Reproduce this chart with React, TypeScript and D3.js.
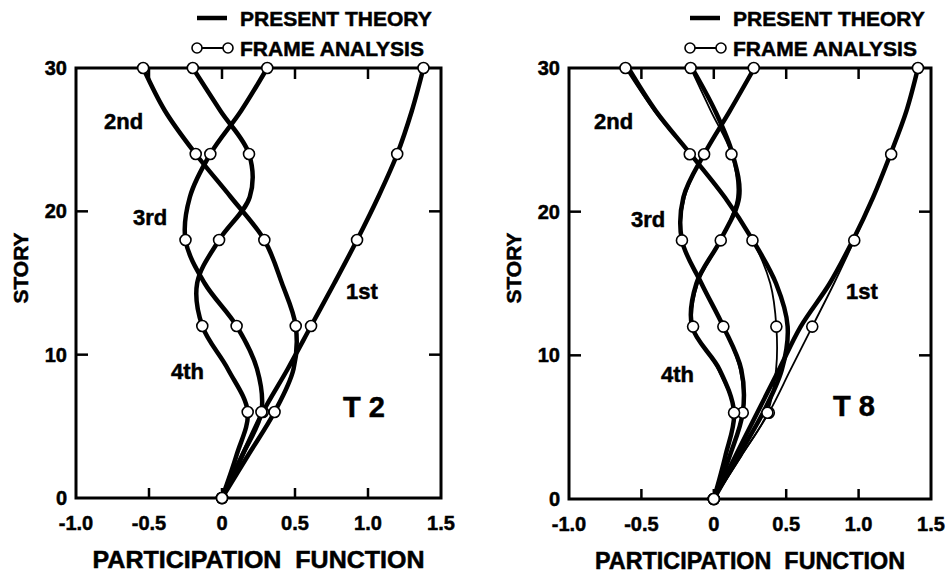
import React from "react";
import * as d3 from "d3";

// ---------- data ----------
// stories at which curves are read (every 3rd story); circles sit on every 6th story
const stories = [0, 3, 6, 9, 12, 15, 18, 21, 24, 27, 30];
const circleStories = [0, 6, 12, 18, 24, 30];
const modeNames = ["1st", "2nd", "3rd", "4th"];
const xTicks = [-1.0, -0.5, 0, 0.5, 1.0, 1.5];
const xTickLabels = ["-1.0", "-0.5", "0", "0.5", "1.0", "1.5"];
const yTicks = [0, 10, 20, 30];
const yTickLabels = ["0", "10", "20", "30"];

// T 2 panel — present theory (thick) and frame analysis (thin + circles)
const t2Theory1 = [0, 0.14, 0.28, 0.45, 0.61, 0.77, 0.925, 1.07, 1.2, 1.3, 1.38];
const t2Theory2 = [0, 0.18, 0.36, 0.49, 0.505, 0.41, 0.29, 0.06, -0.18, -0.39, -0.54];
const t2Theory3 = [0, 0.14, 0.27, 0.24, 0.1, -0.12, -0.25, -0.22, -0.08, 0.13, 0.31];
const t2Theory4 = [0, 0.1, 0.176, 0.04, -0.135, -0.17, -0.02, 0.19, 0.185, -0.01, -0.2];
const t2Frame1 = [0, 0.14, 0.28, 0.45, 0.61, 0.77, 0.925, 1.07, 1.2, 1.3, 1.38];
const t2Frame2 = [0, 0.18, 0.36, 0.49, 0.505, 0.41, 0.29, 0.06, -0.18, -0.39, -0.54];
const t2Frame3 = [0, 0.14, 0.27, 0.24, 0.1, -0.12, -0.25, -0.22, -0.08, 0.13, 0.31];
const t2Frame4 = [0, 0.1, 0.176, 0.04, -0.135, -0.17, -0.02, 0.19, 0.185, -0.01, -0.2];

// T 8 panel
const t8Theory1 = [0, 0.15, 0.3, 0.45, 0.6, 0.8, 0.96, 1.1, 1.22, 1.33, 1.41];
const t8Theory2 = [0, 0.17, 0.34, 0.47, 0.51, 0.43, 0.27, 0.076, -0.16, -0.4, -0.59];
const t8Theory3 = [0, 0.11, 0.2, 0.19, 0.066, -0.085, -0.22, -0.21, -0.067, 0.11, 0.28];
const t8Theory4 = [0, 0.08, 0.14, 0.04, -0.15, -0.12, 0.045, 0.175, 0.13, 0.01, -0.15];
const t8Frame1 = [0, 0.19, 0.38, 0.53, 0.68, 0.83, 0.97, 1.1, 1.225, 1.33, 1.41];
const t8Frame2 = [0, 0.19, 0.37, 0.43, 0.432, 0.39, 0.267, 0.07, -0.166, -0.41, -0.61];
const t8Frame3 = [0, 0.11, 0.2, 0.18, 0.066, -0.09, -0.22, -0.2, -0.067, 0.11, 0.276];
const t8Frame4 = [0, 0.08, 0.14, 0.03, -0.143, -0.11, 0.048, 0.16, 0.122, -0.02, -0.16];

const FONT = "'Liberation Sans', Arial, Helvetica, sans-serif";

type PanelProps = {
  x0: number;
  x1: number;
  y0: number;
  y1: number;
  title: string;
  frame: number[][];
  theory: number[][];
  labelPos: [number, number][];
  titlePos: [number, number];
  storyX: number;
  xTitleWidth: number;
  legendX: number;
};

function Panel(p: PanelProps) {
  const x = d3.scaleLinear().domain([-1, 1.5]).range([p.x0, p.x1]);
  const y = d3.scaleLinear().domain([0, 30]).range([p.y1, p.y0]);
  const line = d3
    .line<[number, number]>()
    .x((d) => x(d[0]))
    .y((d) => y(d[1]))
    .curve(d3.curveCatmullRom.alpha(0.5));
  const innerTicks = [-0.5, 0, 0.5, 1.0];
  const innerY = [10, 20];
  const txt = { stroke: "#000", strokeWidth: 0.5 };
  return (
    <g fontFamily={FONT} fontWeight="bold" fill="#000">
      {/* legend */}
      <line x1={p.legendX} x2={p.legendX + 30} y1={18} y2={18} stroke="#000" strokeWidth={4.5} />
      <text x={p.legendX + 43} y={25.5} fontSize={21} {...txt}>PRESENT THEORY</text>
      <line x1={p.legendX} x2={p.legendX + 31} y1={48} y2={48} stroke="#000" strokeWidth={2} />
      <circle cx={p.legendX} cy={48} r={5} fill="#fff" stroke="#000" strokeWidth={1.6} />
      <circle cx={p.legendX + 31} cy={48} r={5} fill="#fff" stroke="#000" strokeWidth={1.6} />
      <text x={p.legendX + 43} y={55.5} fontSize={21} {...txt}>FRAME ANALYSIS</text>

      {/* frame box */}
      <rect x={p.x0} y={p.y0} width={p.x1 - p.x0} height={p.y1 - p.y0} fill="none" stroke="#000" strokeWidth={3} />
      {innerTicks.map((t) => (
        <g key={"xt" + t}>
          <line x1={x(t)} x2={x(t)} y1={p.y0} y2={p.y0 + 11} stroke="#000" strokeWidth={2.5} />
          <line x1={x(t)} x2={x(t)} y1={p.y1} y2={p.y1 - 10} stroke="#000" strokeWidth={2.5} />
        </g>
      ))}
      {innerY.map((t) => (
        <g key={"yt" + t}>
          <line x1={p.x0} x2={p.x0 + 12} y1={y(t)} y2={y(t)} stroke="#000" strokeWidth={2.5} />
          <line x1={p.x1} x2={p.x1 - 12} y1={y(t)} y2={y(t)} stroke="#000" strokeWidth={2.5} />
        </g>
      ))}
      {xTicks.map((t, i) => (
        <text key={"xl" + i} x={x(t)} y={p.y1 + 32} fontSize={20} textAnchor="middle" {...txt}>
          {xTickLabels[i]}
        </text>
      ))}
      {yTicks.map((t, i) => (
        <text key={"yl" + i} x={p.x0 - 9} y={y(t) + 7} fontSize={20} textAnchor="end" {...txt}>
          {yTickLabels[i]}
        </text>
      ))}
      <text
        x={(p.x0 + p.x1) / 2}
        y={p.y1 + 70}
        fontSize={23}
        textAnchor="middle"
        textLength={p.xTitleWidth}
        lengthAdjust="spacingAndGlyphs"
        {...txt}
      >
        PARTICIPATION{"\u00a0\u00a0"}FUNCTION
      </text>
      <text
        transform={`translate(${p.storyX},268) rotate(-90)`}
        fontSize={21}
        textAnchor="middle"
        {...txt}
      >
        STORY
      </text>

      {/* present theory */}
      {p.theory.map((vals, m) => (
        <path
          key={"th" + m}
          d={line(vals.map((v, i) => [v, stories[i]]) as [number, number][]) || ""}
          fill="none"
          stroke="#000"
          strokeWidth={4.5}
          strokeLinecap="round"
        />
      ))}
      {/* frame analysis */}
      {p.frame.map((vals, m) => (
        <path
          key={"fr" + m}
          d={line(vals.map((v, i) => [v, stories[i]]) as [number, number][]) || ""}
          fill="none"
          stroke="#000"
          strokeWidth={1.8}
        />
      ))}
      {p.frame.map((vals, m) =>
        vals.map((v, i) =>
          circleStories.includes(stories[i]) ? (
            <circle
              key={"c" + m + "-" + i}
              cx={x(v)}
              cy={y(stories[i])}
              r={5.5}
              fill="#fff"
              stroke="#000"
              strokeWidth={1.6}
            />
          ) : null
        )
      )}
      {modeNames.map((n, i) => (
        <text key={"m" + n} x={p.labelPos[i][0]} y={p.labelPos[i][1]} fontSize={22} {...txt}>
          {n}
        </text>
      ))}
      <text x={p.titlePos[0]} y={p.titlePos[1]} fontSize={29} {...txt}>
        {p.title}
      </text>
    </g>
  );
}

export default function App() {
  return (
    <svg
      width={948}
      height={577}
      viewBox="0 0 948 577"
      style={{ position: "absolute", left: 0, top: 0, background: "#fff" }}
    >
      <rect width={948} height={577} fill="#fff" />
      <Panel
        x0={76}
        x1={441}
        y0={68}
        y1={498}
        title="T 2"
        frame={[t2Frame1, t2Frame2, t2Frame3, t2Frame4]}
        theory={[t2Theory1, t2Theory2, t2Theory3, t2Theory4]}
        labelPos={[
          [346, 299],
          [104, 129],
          [133, 225],
          [171, 379],
        ]}
        titlePos={[343, 417]}
        storyX={28}
        xTitleWidth={332}
        legendX={197}
      />
      <Panel
        x0={569}
        x1={931}
        y0={68}
        y1={499}
        title="T 8"
        frame={[t8Frame1, t8Frame2, t8Frame3, t8Frame4]}
        theory={[t8Theory1, t8Theory2, t8Theory3, t8Theory4]}
        labelPos={[
          [846, 299],
          [594, 129],
          [631, 227],
          [661, 382],
        ]}
        titlePos={[833, 416]}
        storyX={521}
        xTitleWidth={310}
        legendX={690}
      />
    </svg>
  );
}
